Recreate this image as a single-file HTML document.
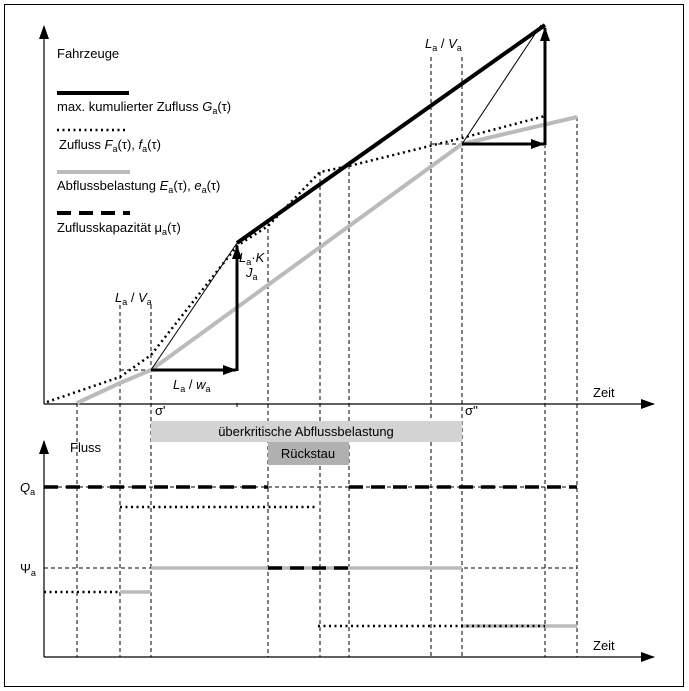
<!DOCTYPE html>
<html><head><meta charset="utf-8"><style>
html,body{margin:0;padding:0;background:#fff}
svg{display:block}
text{font-family:"Liberation Sans",Arial,sans-serif;font-size:13px;fill:#000}
.s{font-size:9px}
</style></head><body>
<svg width="689" height="691" viewBox="0 0 689 691" xmlns="http://www.w3.org/2000/svg">
<defs>
<marker id="ah" markerWidth="10" markerHeight="8" refX="9" refY="4" orient="auto" markerUnits="userSpaceOnUse"><path d="M0,0 L10,4 L0,8 z" fill="#000"/></marker>
<marker id="ah2" markerWidth="14" markerHeight="10" refX="13" refY="5" orient="auto" markerUnits="userSpaceOnUse"><path d="M0,0 L14,5 L0,10 z" fill="#000"/></marker>
</defs>
<rect x="4.5" y="4.5" width="679" height="682" fill="none" stroke="#000" stroke-width="1"/>

<!-- vertical dashed lines -->
<g stroke="#000" stroke-width="1" stroke-dasharray="4,3" fill="none">
<line x1="77" y1="403" x2="77" y2="657"/>
<line x1="120" y1="305" x2="120" y2="657"/>
<line x1="151" y1="305" x2="151" y2="657"/>
<line x1="237" y1="403" x2="237" y2="410"/>
<line x1="268" y1="222" x2="268" y2="657"/>
<line x1="320" y1="172" x2="320" y2="657"/>
<line x1="349" y1="165" x2="349" y2="657"/>
<line x1="431" y1="57" x2="431" y2="657"/>
<line x1="462" y1="57" x2="462" y2="657"/>
<line x1="545" y1="144" x2="545" y2="657"/>
<line x1="577" y1="117" x2="577" y2="657"/>
<line x1="120" y1="370" x2="151" y2="370"/>
<line x1="431" y1="144" x2="462" y2="144"/>
</g>

<!-- axes top -->
<line x1="44" y1="404" x2="44" y2="26" stroke="#000" stroke-width="1.2" marker-end="url(#ah2)"/>
<line x1="44" y1="404" x2="654" y2="404" stroke="#000" stroke-width="1.2" marker-end="url(#ah2)"/>
<text x="593" y="397">Zeit</text>
<text x="57" y="58">Fahrzeuge</text>

<!-- legend -->
<line x1="57" y1="93" x2="129" y2="93" stroke="#000" stroke-width="4"/>
<text x="57" y="111">max. kumulierter Zufluss <tspan font-style="italic">G</tspan><tspan class="s" dy="3">a</tspan><tspan dy="-3">(τ)</tspan></text>
<line x1="57" y1="130" x2="126" y2="130" stroke="#000" stroke-width="2.5" stroke-dasharray="2,3.5"/>
<text x="59" y="149">Zufluss <tspan font-style="italic">F</tspan><tspan class="s" dy="3">a</tspan><tspan dy="-3">(τ), </tspan><tspan font-style="italic">f</tspan><tspan class="s" dy="3">a</tspan><tspan dy="-3">(τ)</tspan></text>
<line x1="57" y1="172" x2="130" y2="172" stroke="#bbb" stroke-width="4"/>
<text x="57" y="190">Abflussbelastung <tspan font-style="italic">E</tspan><tspan class="s" dy="3">a</tspan><tspan dy="-3">(τ), </tspan><tspan font-style="italic">e</tspan><tspan class="s" dy="3">a</tspan><tspan dy="-3">(τ)</tspan></text>
<line x1="57" y1="213" x2="130" y2="213" stroke="#000" stroke-width="4" stroke-dasharray="14,8"/>
<text x="57" y="232">Zuflusskapazität μ<tspan class="s" dy="3">a</tspan><tspan dy="-3">(τ)</tspan></text>

<!-- curves -->
<polyline points="77,403 120,383 151,370 462,144 577,117" fill="none" stroke="#bbb" stroke-width="4"/>
<polyline points="47,402 120,377 151,355 237,246 268,226 320,172 349,166 462,138 545,116" fill="none" stroke="#000" stroke-width="2.5" stroke-dasharray="2,3.5"/>
<line x1="237" y1="243" x2="545" y2="25" stroke="#000" stroke-width="4"/>
<line x1="151" y1="370" x2="237" y2="243" stroke="#000" stroke-width="1"/>
<line x1="462" y1="144" x2="541" y2="25" stroke="#000" stroke-width="1"/>
<line x1="151" y1="370" x2="236" y2="370" stroke="#000" stroke-width="3" marker-end="url(#ah2)"/>
<line x1="237" y1="371" x2="237" y2="246" stroke="#000" stroke-width="3" marker-end="url(#ah2)"/>
<line x1="462" y1="144" x2="544" y2="144" stroke="#000" stroke-width="3" marker-end="url(#ah2)"/>
<line x1="545" y1="145" x2="545" y2="28" stroke="#000" stroke-width="3" marker-end="url(#ah2)"/>

<!-- labels top -->
<text x="115" y="302"><tspan font-style="italic">L</tspan><tspan class="s" dy="3">a</tspan><tspan dy="-3"> / </tspan><tspan font-style="italic">V</tspan><tspan class="s" dy="3">a</tspan></text>
<text x="425" y="48"><tspan font-style="italic">L</tspan><tspan class="s" dy="3">a</tspan><tspan dy="-3"> / </tspan><tspan font-style="italic">V</tspan><tspan class="s" dy="3">a</tspan></text>
<text x="173" y="389"><tspan font-style="italic">L</tspan><tspan class="s" dy="3">a</tspan><tspan dy="-3"> / </tspan><tspan font-style="italic">w</tspan><tspan class="s" dy="3">a</tspan></text>
<text x="239" y="262"><tspan font-style="italic">L</tspan><tspan class="s" dy="3">a</tspan><tspan dy="-3">·</tspan><tspan font-style="italic">K</tspan></text>
<text x="246" y="277"><tspan font-style="italic">J</tspan><tspan class="s" dy="3">a</tspan></text>
<text x="155" y="415">σ'</text>
<text x="465" y="415">σ''</text>

<!-- bars -->
<rect x="151" y="421" width="311" height="21" fill="#d3d3d3"/>
<text x="306" y="436" text-anchor="middle">überkritische Abflussbelastung</text>
<rect x="268" y="442" width="81" height="23" fill="#b0b0b0"/>
<text x="308" y="458" text-anchor="middle">Rückstau</text>

<!-- axes bottom -->
<line x1="44" y1="657" x2="44" y2="441" stroke="#000" stroke-width="1.2" marker-end="url(#ah2)"/>
<line x1="44" y1="657" x2="654" y2="657" stroke="#000" stroke-width="1.2" marker-end="url(#ah2)"/>
<text x="593" y="650">Zeit</text>
<text x="70" y="452">Fluss</text>
<text x="20" y="492"><tspan font-style="italic">Q</tspan><tspan class="s" dy="3">a</tspan></text>
<text x="20" y="573">Ψ<tspan class="s" dy="3">a</tspan></text>

<!-- bottom lines -->
<line x1="44" y1="487" x2="577" y2="487" stroke="#000" stroke-width="1" stroke-dasharray="4,3"/>
<line x1="44" y1="487" x2="268" y2="487" stroke="#000" stroke-width="3.5" stroke-dasharray="14,8"/>
<line x1="349" y1="487" x2="577" y2="487" stroke="#000" stroke-width="3.5" stroke-dasharray="14,8"/>
<line x1="120" y1="507" x2="318" y2="507" stroke="#000" stroke-width="2.5" stroke-dasharray="2,3.5"/>
<line x1="44" y1="568" x2="577" y2="568" stroke="#000" stroke-width="1" stroke-dasharray="4,3"/>
<line x1="151" y1="568" x2="462" y2="568" stroke="#bbb" stroke-width="3.5"/>
<line x1="268" y1="568" x2="349" y2="568" stroke="#000" stroke-width="3.5" stroke-dasharray="14,8"/>
<line x1="120" y1="592" x2="151" y2="592" stroke="#bbb" stroke-width="3.5"/>
<line x1="44" y1="592" x2="120" y2="592" stroke="#000" stroke-width="2.5" stroke-dasharray="2,3.5"/>
<line x1="462" y1="626" x2="577" y2="626" stroke="#bbb" stroke-width="3.5"/>
<line x1="318" y1="626" x2="545" y2="626" stroke="#000" stroke-width="2.5" stroke-dasharray="2,3.5"/>
</svg>
</body></html>
